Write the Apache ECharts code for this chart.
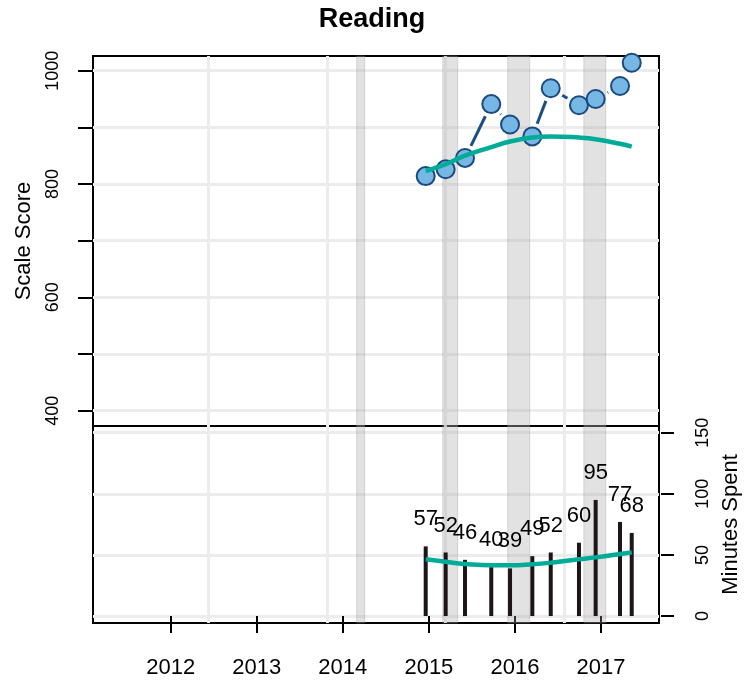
<!DOCTYPE html>
<html>
<head>
<meta charset="utf-8">
<title>Reading</title>
<script src="https://cdn.jsdelivr.net/npm/echarts@6/dist/echarts.min.js"></script>
<style>
  html, body { margin: 0; padding: 0; background: #fff; }
  #chart { width: 744px; height: 685px; }
</style>
</head>
<body>
<div id="chart"></div>
<script>
// test dates as decimal years
const testDates = [2014.963, 2015.195, 2015.420, 2015.725, 2015.943, 2016.202, 2016.416, 2016.744, 2016.938, 2017.221, 2017.357];
const scaleScores = [814, 826, 846, 941, 905, 884, 969, 939, 950, 973, 1014];
const scoreTrend = [823, 835, 850, 865, 875, 882, 884, 882, 879, 871, 866];
const minutesSpent = [57, 52, 46, 40, 39, 49, 52, 60, 95, 77, 68];
const minutesTrend = [46.5, 44.4, 42.6, 41.5, 41.5, 42.3, 43.6, 46.4, 48.0, 50.7, 52.1];

const yearTicks = [2012, 2013, 2014, 2015, 2016, 2017];
const scoreTicks = [400, 500, 600, 700, 800, 900, 1000];
const scoreLabels = [400, 600, 800, 1000];
const minuteTicks = [0, 50, 100, 150];
// vertical grid lines and school breaks (decimal years)
const gridYears = [2012.445, 2013.816, 2015.187, 2016.570];
const breaks = [[2014.161, 2014.254], [2015.161, 2015.335], [2015.916, 2016.172], [2016.801, 2017.055]];

const X_MIN = 2011.097, X_MAX = 2017.674;
const teal = '#00ab98';
const gridGray = '#ececec';
const plain = v => String(v);

const chart = echarts.init(document.getElementById('chart'));

function backdrop(xi, yi) {
  return {
    type: 'line', xAxisIndex: xi, yAxisIndex: yi, data: [], silent: true, z: 0,
    markLine: {
      silent: true, symbol: 'none', label: { show: false }, z: 0,
      lineStyle: { color: gridGray, width: 3, type: 'solid' },
      data: gridYears.map(v => ({ xAxis: v }))
    },
    markArea: {
      silent: true, z: 1,
      itemStyle: { color: 'rgba(160,160,160,0.3)', borderColor: 'rgba(140,140,140,0.3)', borderWidth: 1 },
      data: breaks.map(b => [{ xAxis: b[0] }, { xAxis: b[1] }])
    }
  };
}

const joins = testDates.slice(0, -1).map((d, i) => [d, scaleScores[i], testDates[i + 1], scaleScores[i + 1]]);

chart.setOption({
  animation: false,
  textStyle: { fontFamily: 'Liberation Sans', color: '#000' },
  title: {
    text: 'Reading', left: 'center', top: 1,
    textStyle: { fontSize: 27, fontWeight: 'bold', color: '#000', fontFamily: 'Liberation Sans' }
  },
  grid: [
    { left: 93, top: 56, width: 566, height: 370, outerBoundsMode: 'none', show: true, borderColor: '#000', borderWidth: 2 },
    { left: 93, top: 426, width: 566, height: 197, outerBoundsMode: 'none', show: true, borderColor: '#000', borderWidth: 2 }
  ],
  xAxis: [
    { type: 'value', gridIndex: 0, min: X_MIN, max: X_MAX, show: false },
    {
      type: 'value', gridIndex: 1, min: X_MIN, max: X_MAX, offset: 4,
      axisLine: { show: false },
      axisTick: { customValues: yearTicks, length: 17, lineStyle: { color: '#000', width: 2 } },
      axisLabel: { customValues: yearTicks, formatter: plain, fontSize: 22, margin: 30, color: '#000' },
      splitLine: { show: false }
    }
  ],
  yAxis: [
    {
      type: 'value', gridIndex: 0, min: 373, max: 1025.9, position: 'left', offset: 1,
      axisLine: { show: false },
      axisTick: { customValues: scoreTicks, length: 14, lineStyle: { color: '#000', width: 2 } },
      axisLabel: { customValues: scoreLabels, formatter: plain, rotate: 90, fontSize: 18, margin: 30, color: '#000' },
      splitLine: { show: true, lineStyle: { color: gridGray, width: 3 } },
      name: 'Scale Score', nameLocation: 'middle', nameGap: 57,
      nameTextStyle: { fontSize: 22, color: '#000' }
    },
    {
      type: 'value', gridIndex: 1, min: -5.7, max: 155.5, position: 'right', offset: 2,
      axisLine: { show: false },
      axisTick: { customValues: minuteTicks, length: 13, lineStyle: { color: '#000', width: 2 } },
      axisLabel: { customValues: minuteTicks, formatter: plain, rotate: 90, fontSize: 18, margin: 33, color: '#000' },
      splitLine: { show: true, lineStyle: { color: gridGray, width: 3 } },
      name: 'Minutes Spent', nameLocation: 'middle', nameGap: 57,
      nameTextStyle: { fontSize: 22, color: '#000' }
    }
  ],
  series: [
    backdrop(0, 0),
    backdrop(1, 1),
    {
      name: 'score trend', type: 'line', xAxisIndex: 0, yAxisIndex: 0,
      data: testDates.map((d, i) => [d, scoreTrend[i]]),
      smooth: true, symbol: 'none', silent: true,
      lineStyle: { color: teal, width: 4.5 }
    },
    {
      // type "b" style joins: segments with a gap around each point
      name: 'joins', type: 'custom', xAxisIndex: 0, yAxisIndex: 0, silent: true,
      encode: { x: [0, 2], y: [1, 3] },
      data: joins,
      renderItem: function (params, api) {
        const a = api.coord([api.value(0), api.value(1)]);
        const b = api.coord([api.value(2), api.value(3)]);
        const dx = b[0] - a[0], dy = b[1] - a[1];
        const len = Math.sqrt(dx * dx + dy * dy);
        const gap = 13.5;
        if (len <= 2 * gap) return null;
        const ux = dx / len, uy = dy / len;
        return {
          type: 'line',
          shape: { x1: a[0] + ux * gap, y1: a[1] + uy * gap, x2: b[0] - ux * gap, y2: b[1] - uy * gap },
          style: { stroke: '#1d4e82', lineWidth: 3 }
        };
      }
    },
    {
      name: 'scores', type: 'scatter', xAxisIndex: 0, yAxisIndex: 0, silent: true,
      data: testDates.map((d, i) => [d, scaleScores[i]]),
      symbolSize: 18,
      itemStyle: { color: '#76b7e6', borderColor: '#1b4a7d', borderWidth: 2, opacity: 1 }
    },
    {
      // thin vertical bars with value labels (custom so the value axis keeps its extent)
      name: 'minutes', type: 'custom', xAxisIndex: 1, yAxisIndex: 1, silent: true,
      encode: { x: 0, y: 1 },
      data: testDates.map((d, i) => [d, minutesSpent[i]]),
      renderItem: function (params, api) {
        const base = api.coord([api.value(0), 0]);
        const top = api.coord([api.value(0), api.value(1)]);
        return {
          type: 'group',
          children: [
            {
              type: 'rect',
              shape: { x: top[0] - 2, y: top[1], width: 4, height: base[1] - top[1] },
              style: { fill: '#1e1419' }
            },
            {
              type: 'text',
              x: top[0], y: top[1] - 16,
              style: {
                text: String(api.value(1)), fontSize: 22, fontFamily: 'Liberation Sans',
                fill: '#000', align: 'center', verticalAlign: 'bottom'
              }
            }
          ]
        };
      }
    },
    {
      name: 'minutes trend', type: 'line', xAxisIndex: 1, yAxisIndex: 1,
      data: testDates.map((d, i) => [d, minutesTrend[i]]),
      smooth: true, symbol: 'none', silent: true,
      lineStyle: { color: teal, width: 4.5 }
    }
  ]
});
</script>
</body>
</html>
